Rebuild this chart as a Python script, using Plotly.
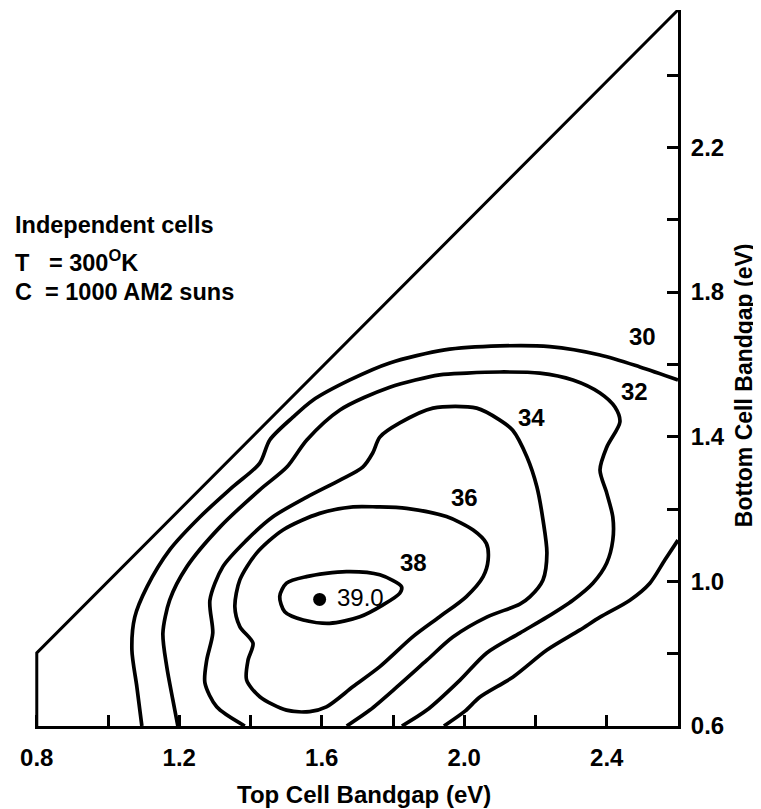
import plotly.graph_objects as go

# ---- boundary of the valid region ----
boundary_x = [0.8, 0.8, 2.6]
boundary_y = [0.6, 0.802, 2.58]

# ---- efficiency contours ----
c30a_x = [1.095, 1.081, 1.067, 1.075, 1.109, 1.173, 1.258, 1.350, 1.426, 1.454, 1.519, 1.575,
          1.679, 1.791, 1.945, 2.100, 2.240, 2.381, 2.493, 2.600]
c30a_y = [0.600, 0.708, 0.810, 0.901, 0.984, 1.087, 1.178, 1.261, 1.327, 1.391, 1.454, 1.501,
          1.557, 1.604, 1.640, 1.651, 1.649, 1.626, 1.593, 1.557]

c30b_x = [2.600, 2.563, 2.521, 2.465, 2.381, 2.324, 2.232, 2.136, 2.044, 2.002, 1.943]
c30b_y = [1.114, 1.059, 0.995, 0.948, 0.901, 0.865, 0.810, 0.735, 0.680, 0.641, 0.600]

c32_x = [1.196, 1.182, 1.165, 1.154, 1.173, 1.221, 1.314, 1.426, 1.502, 1.558, 1.651, 1.791,
         1.931, 2.007, 2.100, 2.212, 2.305, 2.381, 2.423, 2.437, 2.400, 2.381, 2.400, 2.417,
         2.417, 2.400, 2.361, 2.305, 2.232, 2.156, 2.063, 1.988, 1.895, 1.825]
c32_y = [0.600, 0.672, 0.763, 0.857, 0.948, 1.040, 1.150, 1.253, 1.316, 1.391, 1.474, 1.537,
         1.571, 1.576, 1.579, 1.576, 1.557, 1.521, 1.482, 1.441, 1.371, 1.308, 1.244, 1.178,
         1.114, 1.051, 0.995, 0.948, 0.901, 0.857, 0.802, 0.727, 0.644, 0.600]

c34_x = [1.384, 1.305, 1.272, 1.277, 1.294, 1.286, 1.322, 1.389, 1.462, 1.558, 1.651, 1.715,
         1.743, 1.763, 1.819, 1.912, 2.035, 2.100, 2.136, 2.176, 2.204, 2.221, 2.232, 2.221,
         2.184, 2.156, 2.063, 1.968, 1.895, 1.811, 1.735, 1.670]
c34_y = [0.600, 0.653, 0.719, 0.782, 0.857, 0.948, 1.040, 1.114, 1.178, 1.233, 1.280, 1.316,
         1.355, 1.399, 1.438, 1.479, 1.479, 1.446, 1.418, 1.344, 1.261, 1.170, 1.078, 1.004,
         0.957, 0.937, 0.901, 0.846, 0.782, 0.708, 0.644, 0.600]

c36_x = [1.754, 1.838, 1.950, 2.025, 2.062, 2.067, 2.053, 2.006, 1.931, 1.856, 1.763, 1.688,
         1.613, 1.566, 1.501, 1.426, 1.389, 1.393, 1.407, 1.370, 1.356, 1.370, 1.417, 1.491,
         1.594, 1.688, 1.754]
c36_y = [1.206, 1.202, 1.179, 1.142, 1.105, 1.059, 1.013, 0.958, 0.902, 0.847, 0.764, 0.709,
         0.653, 0.640, 0.644, 0.681, 0.727, 0.782, 0.829, 0.875, 0.930, 1.004, 1.078, 1.142,
         1.188, 1.206, 1.206]

c38_x = [1.482, 1.501, 1.557, 1.669, 1.763, 1.824, 1.819, 1.772, 1.707, 1.622, 1.548, 1.496, 1.482]
c38_y = [0.958, 0.995, 1.013, 1.027, 1.018, 0.985, 0.967, 0.935, 0.902, 0.884, 0.893, 0.916, 0.958]

peak_x = [1.594]
peak_y = [0.950]
peak_label = "39.0"

contour_labels = ["30", "32", "34", "36", "38"]
label_x = [2.501, 2.479, 2.189, 2.001, 1.858]
label_y = [1.676, 1.526, 1.454, 1.233, 1.051]

x_tickvals = [0.8, 1.0, 1.2, 1.4, 1.6, 1.8, 2.0, 2.2, 2.4]
x_ticktext = ["0.8", "", "1.2", "", "1.6", "", "2.0", "", "2.4"]
y_tickvals = [0.6, 0.8, 1.0, 1.2, 1.4, 1.6, 1.8, 2.0, 2.2, 2.4]
y_ticktext = ["0.6", "", "1.0", "", "1.4", "", "1.8", "", "2.2", ""]

note_lines = ["Independent cells",
              "T\u00a0\u00a0\u00a0= 300<sup>O</sup>K",
              "C\u00a0\u00a0= 1000 AM2 suns"]
note_y = [0.700, 0.649, 0.606]

FONT = "Liberation Sans, Arial, sans-serif"

fig = go.Figure()

fig.add_trace(go.Scatter(x=boundary_x, y=boundary_y, mode="lines",
                         line=dict(color="black", width=3), hoverinfo="skip",
                         showlegend=False))

for cx, cy in [(c30a_x, c30a_y), (c30b_x, c30b_y), (c32_x, c32_y),
               (c34_x, c34_y), (c36_x, c36_y), (c38_x, c38_y)]:
    fig.add_trace(go.Scatter(x=cx, y=cy, mode="lines",
                             line=dict(color="black", width=3.7, shape="spline", smoothing=0.8),
                             showlegend=False))

fig.add_trace(go.Scatter(x=peak_x, y=peak_y, mode="markers",
                         marker=dict(color="black", size=13), showlegend=False))

for t, lx, ly in zip(contour_labels, label_x, label_y):
    fig.add_annotation(x=lx, y=ly, xref="x", yref="y", text=t, showarrow=False,
                       xanchor="center", yanchor="middle",
                       font=dict(family=FONT, size=24, color="black", weight="bold"))

fig.add_annotation(x=peak_x[0] + 0.042, y=peak_y[0] + 0.004, xref="x", yref="y",
                   text=peak_label, showarrow=False, xanchor="left", yanchor="middle",
                   font=dict(family=FONT, size=24, color="black"))

for t, ny in zip(note_lines, note_y):
    fig.add_annotation(x=-0.034, y=ny, xref="paper", yref="paper", text=t, showarrow=False,
                       xanchor="left", yanchor="middle",
                       font=dict(family=FONT, size=23.5, color="black", weight="bold"))

fig.add_annotation(x=0.512, y=-0.096, xref="paper", yref="paper",
                   text="Top Cell Bandgap (eV)", showarrow=False,
                   xanchor="center", yanchor="middle",
                   font=dict(family=FONT, size=24, color="black", weight="bold"))
fig.add_annotation(x=1.1026, y=0.476, xref="paper", yref="paper",
                   text="Bottom Cell Bandgap (eV)", showarrow=False, textangle=-90,
                   xanchor="center", yanchor="middle",
                   font=dict(family=FONT, size=23, color="black", weight="bold"))

fig.update_xaxes(range=[0.795, 2.6], showline=True, linecolor="black", linewidth=3,
                 ticks="inside", ticklen=11, tickwidth=2.5, tickcolor="black",
                 tickvals=x_tickvals, ticktext=x_ticktext, showgrid=False, zeroline=False,
                 ticklabelstandoff=8,
                 tickfont=dict(family=FONT, size=24, color="black", weight="bold"))
fig.update_yaxes(range=[0.6, 2.58], side="right", showline=True, linecolor="black",
                 linewidth=3, ticks="inside", ticklen=11, tickwidth=2.5, tickcolor="black",
                 tickvals=y_tickvals, ticktext=y_ticktext, showgrid=False, zeroline=False,
                 ticklabelstandoff=5,
                 tickfont=dict(family=FONT, size=24, color="black", weight="bold"))

# the page adds an 8px body margin, so the figure starts 8px in from the window corner
fig.update_layout(width=753, height=801, margin=dict(l=27, r=83, t=2, b=83),
                  plot_bgcolor="white", paper_bgcolor="white", showlegend=False)

fig.write_html("out.html")
